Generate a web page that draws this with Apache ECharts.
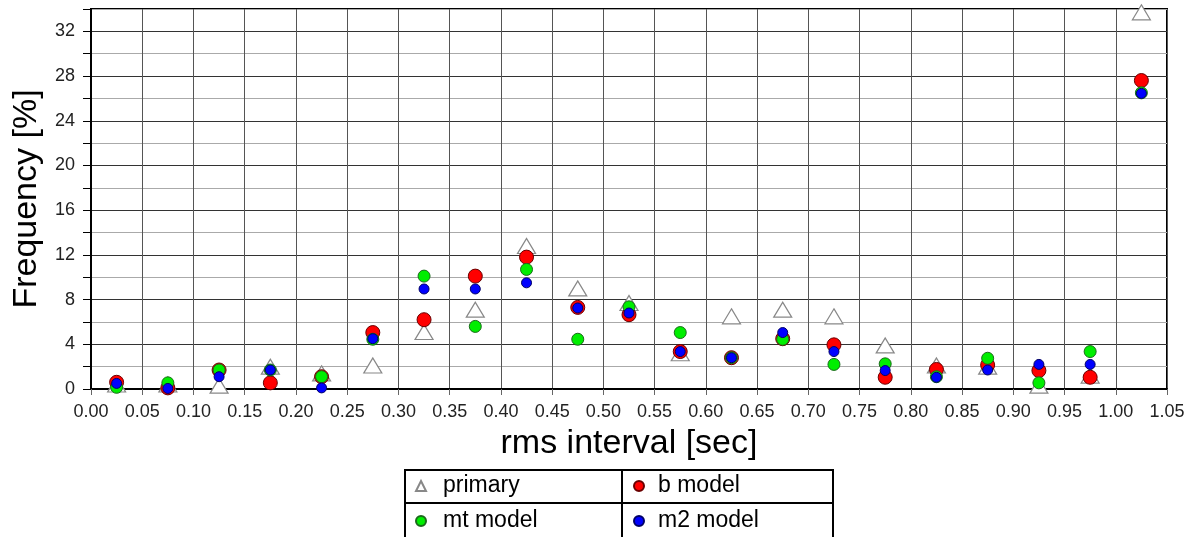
<!DOCTYPE html>
<html>
<head>
<meta charset="utf-8">
<script src="https://cdn.jsdelivr.net/npm/echarts@6/dist/echarts.min.js"></script>
<style>html,body{margin:0;padding:0;background:#fff}#chart{width:1197px;height:537px}</style>
</head>
<body>
<div id="chart"></div>
<script>
// bin centres [sec]
const binCenters = [0.025,0.075,0.125,0.175,0.225,0.275,0.325,0.375,0.425,0.475,0.525,0.575,0.625,0.675,0.725,0.775,0.825,0.875,0.925,0.975,1.025];
// frequency [%]
const primary = [0.4,0.4,0.3,2.0,1.4,2.1,5.1,7.1,12.8,9.0,7.7,3.2,6.5,7.1,6.5,3.9,2.1,2.0,0.3,1.2,33.7];
const bModel  = [0.6,0.1,1.7,0.55,1.1,5.05,6.2,10.1,11.8,7.3,6.65,3.35,2.8,4.5,3.95,1.05,1.75,2.15,1.65,1.05,27.6];
const mtModel = [0.15,0.55,1.7,1.7,1.1,4.45,10.1,5.6,10.7,4.45,7.35,5.05,2.8,4.45,2.2,2.25,1.1,2.75,0.55,3.35,26.5];
const m2Model = [0.5,0.05,1.1,1.7,0.1,4.5,8.95,8.95,9.5,7.25,6.8,3.35,2.8,5.05,3.35,1.65,1.05,1.7,2.2,2.2,26.45];
const seriesNames = ['primary','b model','mt model','m2 model'];

const pair = arr => binCenters.map((x,i)=>[x,arr[i]]);
const FONT = '"Liberation Sans", Arial, sans-serif';

const chart = echarts.init(document.getElementById('chart'));
const legendBase = {
  orient:'horizontal', padding:0, itemWidth:10, itemHeight:10,
  textStyle:{fontFamily:FONT,fontSize:23,color:'#000',lineHeight:26}
};
chart.setOption({
  animation:false,
  backgroundColor:'#fff',
  grid:{left:91,right:30,top:9,bottom:148,show:true,borderColor:'#000',borderWidth:2,backgroundColor:'transparent'},
  xAxis:{
    type:'value',min:0,max:1.05,interval:0.05,
    name:'rms interval [sec]',nameLocation:'middle',nameGap:38,
    nameTextStyle:{fontFamily:FONT,fontSize:34,color:'#000'},
    axisLine:{show:true,lineStyle:{color:'#000',width:2}},
    axisTick:{show:true,length:6,lineStyle:{color:'#666'}},
    axisLabel:{fontFamily:FONT,fontSize:18,color:'#222',margin:14,formatter:v=>v.toFixed(2)},
    splitLine:{show:true,lineStyle:{color:'#555',width:1}}
  },
  yAxis:{
    type:'value',min:0,max:34,interval:2,
    name:'Frequency [%]',nameLocation:'middle',nameGap:47,
    nameTextStyle:{fontFamily:FONT,fontSize:34,color:'#000'},
    axisLine:{show:true,lineStyle:{color:'#000',width:2}},
    axisTick:{show:true,length:8,lineStyle:{color:['#555','#999']}},
    axisLabel:{fontFamily:FONT,fontSize:18,color:'#222',margin:16,
      formatter:v=>(Math.round(v)%4===0 && v<=32)?String(Math.round(v)):''},
    splitLine:{show:true,lineStyle:{color:['#333','#aaa'],width:1}}
  },
  legend:[
    Object.assign({},legendBase,{data:[seriesNames[0]],left:415,top:473,textStyle:Object.assign({},legendBase.textStyle,{padding:[0,0,0,12]})}),
    Object.assign({},legendBase,{data:[seriesNames[1]],left:633,top:473,textStyle:Object.assign({},legendBase.textStyle,{padding:[0,0,0,9]})}),
    Object.assign({},legendBase,{data:[seriesNames[2]],left:415,top:508,textStyle:Object.assign({},legendBase.textStyle,{padding:[0,0,0,12]})}),
    Object.assign({},legendBase,{data:[seriesNames[3]],left:633,top:508,textStyle:Object.assign({},legendBase.textStyle,{padding:[0,0,0,9]})})
  ],
  graphic:[
    {type:'rect',shape:{x:405,y:470,width:428,height:80},style:{fill:'none',stroke:'#000',lineWidth:2},z:100},
    {type:'line',shape:{x1:405,y1:503,x2:833,y2:503},style:{stroke:'#000',lineWidth:2},z:100},
    {type:'line',shape:{x1:622,y1:470,x2:622,y2:537},style:{stroke:'#000',lineWidth:2},z:100}
  ],
  series:[
    {name:seriesNames[0],type:'scatter',symbol:'triangle',symbolSize:[18,15],data:pair(primary),
      itemStyle:{color:'#fff',borderColor:'#888',borderWidth:1.2,opacity:1}},
    {name:seriesNames[1],type:'scatter',symbol:'circle',symbolSize:14,data:pair(bModel),
      itemStyle:{color:'#ff0000',borderColor:'#6a0000',borderWidth:1,opacity:1}},
    {name:seriesNames[2],type:'scatter',symbol:'circle',symbolSize:12,data:pair(mtModel),
      itemStyle:{color:'#00ee00',borderColor:'#1a6a1a',borderWidth:1,opacity:1}},
    {name:seriesNames[3],type:'scatter',symbol:'circle',symbolSize:10,data:pair(m2Model),
      itemStyle:{color:'#0000ff',borderColor:'#000066',borderWidth:1,opacity:1}}
  ]
});
</script>
</body>
</html>
